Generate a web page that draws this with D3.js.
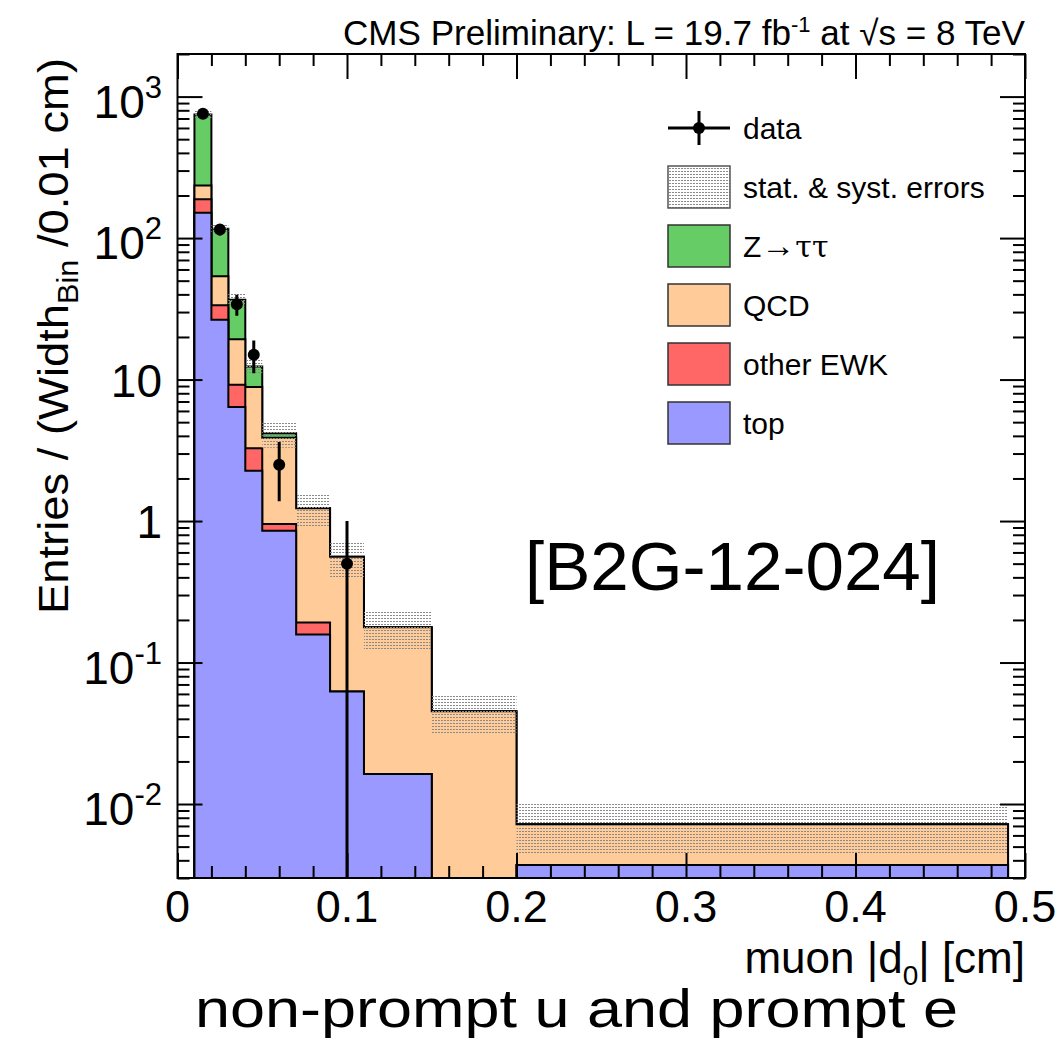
<!DOCTYPE html>
<html><head><meta charset="utf-8">
<script src="https://cdn.jsdelivr.net/npm/d3@7"></script>
<style>
body{margin:0;background:#fff}
svg{display:block}
text{font-family:"Liberation Sans",Arial,Helvetica,sans-serif;fill:#000}
</style>
</head><body>
<svg id="c" width="1061" height="1041"></svg>
<script>
// ---- data ----
const binEdges = [0.01, 0.02, 0.03, 0.04, 0.05, 0.07, 0.09, 0.11, 0.15, 0.20, 0.49];
const topVals     = [151, 26.5, 6.4, 2.27, 0.855, 0.158, 0.0625, 0.0163, 0, 0.0037];
const ewkVals     = [37, 7, 2.8, 1.0, 0.1, 0.034, 0, 0, 0, 0];
const qcdVals     = [47, 20.2, 10.1, 5.6, 2.93, 1.04, 0.4975, 0.161, 0.0452, 0.0035];
const ztautauVals = [512, 62.8, 17.4, 3.5, 0.29, 0, 0, 0, 0, 0];
const bandLow  = [700, 107, 33, 11, 3.3, 0.91, 0.40, 0.124, 0.031, 0.0044];
const bandHigh = [796, 128, 40.5, 14, 5.1, 1.55, 0.72, 0.23, 0.059, 0.010];
const dataX     = [0.015, 0.025, 0.035, 0.045, 0.06, 0.1];
const dataY     = [755, 115, 34, 15, 2.5, 0.5];
const dataErrLo = [27.5, 10.7, 5.8, 3.9, 1.12, 0.5];
const dataErrHi = [27.5, 10.7, 5.8, 3.9, 1.12, 0.5];
const xMajorTicks = [0, 0.1, 0.2, 0.3, 0.4, 0.5];
const xTickLabels = ["0", "0.1", "0.2", "0.3", "0.4", "0.5"];
const yMajorTicks = [0.01, 0.1, 1, 10, 100, 1000];
const yTickBase = ["10", "10", "1", "10", "10", "10"];
const yTickExp  = ["-2", "-1", "", "", "2", "3"];
const legendLabels = ["data", "stat. & syst. errors", "Z\u2192\u03c4\u03c4", "QCD", "other EWK", "top"];
const layerNames  = ["top", "other EWK", "QCD", "Z\u2192\u03c4\u03c4"];
const layerColors = ["#9999ff", "#ff6666", "#ffcc99", "#66cc66"];

// ---- layout ----
const L = 177.5, R = 1025, T = 54, B = 878;
const svg = d3.select("#c");
const x = d3.scaleLinear().domain([0, 0.5]).range([L, R]);
const y = d3.scaleLog().domain([0.003, 2000]).range([B, T]);

const defs = svg.append("defs");
defs.append("clipPath").attr("id", "plotclip").append("rect")
  .attr("x", L).attr("y", T).attr("width", R - L).attr("height", B - T);
const pat = defs.append("pattern").attr("id", "hatch").attr("patternUnits", "userSpaceOnUse")
  .attr("width", 3).attr("height", 3);
pat.append("rect").attr("x", 0).attr("y", 0).attr("width", 2).attr("height", 1).attr("fill", "#8a8a8a");

const plot = svg.append("g").attr("clip-path", "url(#plotclip)");

// stacked layers
const layerVals = [topVals, ewkVals, qcdVals, ztautauVals];
const cum = [];
layerVals.forEach((vals, k) => {
  cum.push(vals.map((v, i) => v + (k > 0 ? cum[k - 1][i] : 0)));
});
const yc = v => v > 0 ? Math.min(y(v), B + 5) : B + 5;
const line = d3.line();
for (let k = layerVals.length - 1; k >= 0; k--) {
  const pts = [[x(binEdges[0]), B + 5]];
  cum[k].forEach((v, i) => {
    pts.push([x(binEdges[i]), yc(v)]);
    pts.push([x(binEdges[i + 1]), yc(v)]);
  });
  pts.push([x(binEdges[binEdges.length - 1]), B + 5]);
  plot.append("path").attr("d", line(pts) + "Z")
    .attr("fill", layerColors[k]).attr("stroke", "#000").attr("stroke-width", 2)
    .attr("stroke-linejoin", "miter");
}

// error band
plot.selectAll("rect.band").data(bandLow).enter().append("rect").attr("class", "band")
  .attr("x", (d, i) => x(binEdges[i]))
  .attr("width", (d, i) => x(binEdges[i + 1]) - x(binEdges[i]))
  .attr("y", (d, i) => y(bandHigh[i]))
  .attr("height", (d, i) => y(bandLow[i]) - y(bandHigh[i]))
  .attr("fill", "url(#hatch)");

// axes / ticks (inward)
function clean(g) { g.select(".domain").remove(); g.selectAll("line").attr("stroke", "#000").attr("stroke-width", 2); g.selectAll("text").remove(); }
const xMinor = d3.range(0, 0.5001, 0.02).filter(v => Math.abs(v * 10 - Math.round(v * 10)) > 1e-6);
svg.append("g").attr("transform", `translate(0,${B})`).call(d3.axisBottom(x).tickValues(xMajorTicks).tickSize(-25).tickFormat("")).call(clean);
svg.append("g").attr("transform", `translate(0,${B})`).call(d3.axisBottom(x).tickValues(xMinor).tickSize(-12).tickFormat("")).call(clean);
svg.append("g").attr("transform", `translate(0,${T})`).call(d3.axisTop(x).tickValues(xMajorTicks).tickSize(-25).tickFormat("")).call(clean);
svg.append("g").attr("transform", `translate(0,${T})`).call(d3.axisTop(x).tickValues(xMinor).tickSize(-12).tickFormat("")).call(clean);
const yMinor = [];
[0.001, 0.01, 0.1, 1, 10, 100, 1000].forEach(d => { for (let m = 2; m <= 9; m++) { const v = d * m; if (v >= 0.003 && v <= 2000) yMinor.push(v); } });
svg.append("g").attr("transform", `translate(${L},0)`).call(d3.axisLeft(y).tickValues(yMajorTicks).tickSize(-25).tickFormat("")).call(clean);
svg.append("g").attr("transform", `translate(${L},0)`).call(d3.axisLeft(y).tickValues(yMinor).tickSize(-12).tickFormat("")).call(clean);
svg.append("g").attr("transform", `translate(${R},0)`).call(d3.axisRight(y).tickValues(yMajorTicks).tickSize(-25).tickFormat("")).call(clean);
svg.append("g").attr("transform", `translate(${R},0)`).call(d3.axisRight(y).tickValues(yMinor).tickSize(-12).tickFormat("")).call(clean);

// frame
svg.append("rect").attr("x", L).attr("y", T).attr("width", R - L).attr("height", B - T)
  .attr("fill", "none").attr("stroke", "#000").attr("stroke-width", 2);

// data points
const dg = svg.append("g").attr("clip-path", "url(#plotclip)");
dataX.forEach((xv, i) => {
  const lo = dataY[i] - dataErrLo[i];
  dg.append("line").attr("x1", x(xv)).attr("x2", x(xv))
    .attr("y1", y(dataY[i] + dataErrHi[i])).attr("y2", lo > 0 ? y(lo) : B)
    .attr("stroke", "#000").attr("stroke-width", 3);
  dg.append("circle").attr("cx", x(xv)).attr("cy", y(dataY[i])).attr("r", 6).attr("fill", "#000");
});

// tick labels
svg.selectAll("text.xl").data(xMajorTicks).enter().append("text").attr("class", "xl")
  .attr("x", d => x(d)).attr("y", 922).attr("text-anchor", "middle")
  .attr("font-size", 45).text((d, i) => xTickLabels[i]);
yMajorTicks.forEach((v, i) => {
  const t = svg.append("text").attr("x", 162).attr("y", y(v) + (yTickExp[i] ? 21 : 17))
    .attr("text-anchor", "end").attr("font-size", 46);
  t.append("tspan").text(yTickBase[i]);
  if (yTickExp[i]) t.append("tspan").attr("font-size", 31).attr("dy", -20).text(yTickExp[i]);
});

// axis titles
const yt = svg.append("text").attr("transform", "translate(68,58) rotate(-90)")
  .attr("text-anchor", "end").attr("font-size", 43)
  .attr("textLength", 556).attr("lengthAdjust", "spacingAndGlyphs");
yt.append("tspan").text("Entries / (Width");
yt.append("tspan").attr("font-size", 29).attr("dy", 10).text("Bin");
yt.append("tspan").attr("dy", -10).text(" /0.01 cm)");

const xt = svg.append("text").attr("x", 1025).attr("y", 973).attr("text-anchor", "end").attr("font-size", 44);
xt.append("tspan").text("muon |d");
xt.append("tspan").attr("font-size", 28).attr("dy", 12).text("0");
xt.append("tspan").attr("dy", -12).text("| [cm]");

svg.append("text").attr("x", 195).attr("y", 1027).attr("font-size", 54)
  .attr("textLength", 763).attr("lengthAdjust", "spacingAndGlyphs")
  .text("non-prompt u and prompt e");

// header
const hd = svg.append("text").attr("x", 343).attr("y", 45).attr("font-size", 35)
  .attr("textLength", 682).attr("lengthAdjust", "spacingAndGlyphs");
hd.append("tspan").text("CMS Preliminary: L = 19.7 fb");
hd.append("tspan").attr("font-size", 22).attr("dy", -13).text("-1");
hd.append("tspan").attr("dy", 13).text(" at \u221As = 8 TeV");

svg.append("text").attr("x", 525).attr("y", 590).attr("font-size", 68)
  .attr("textLength", 415).attr("lengthAdjust", "spacingAndGlyphs").text("[B2G-12-024]");

// legend
const legY = [128, 187, 246, 305, 364, 423];
const lx = 668, lw = 62, lh = 42;
const lg = svg.append("g");
// data entry
lg.append("line").attr("x1", lx).attr("x2", lx + lw).attr("y1", legY[0]).attr("y2", legY[0]).attr("stroke", "#000").attr("stroke-width", 3);
lg.append("line").attr("x1", lx + lw / 2).attr("x2", lx + lw / 2).attr("y1", legY[0] - 17).attr("y2", legY[0] + 17).attr("stroke", "#000").attr("stroke-width", 3);
lg.append("circle").attr("cx", lx + lw / 2).attr("cy", legY[0]).attr("r", 6).attr("fill", "#000");
// band entry
lg.append("rect").attr("x", lx).attr("y", legY[1] - lh / 2).attr("width", lw).attr("height", lh)
  .attr("fill", "url(#hatch)").attr("stroke", "#555").attr("stroke-width", 1.5);
// stack entries: Z, QCD, EWK, top
[3, 2, 1, 0].forEach((k, j) => {
  lg.append("rect").attr("x", lx).attr("y", legY[j + 2] - lh / 2).attr("width", lw).attr("height", lh)
    .attr("fill", layerColors[k]).attr("stroke", "#333").attr("stroke-width", 1.5);
});
legendLabels.forEach((s, i) => {
  const t = lg.append("text").attr("x", 743).attr("y", legY[i] + 11).attr("font-size", 30);
  if (i === 2) {
    t.append("tspan").text("Z");
    t.append("tspan").attr("font-size", 34).text("\u2192");
    t.append("tspan").attr("font-family", "'DejaVu Serif', 'Liberation Serif', serif").text("\u03c4\u03c4");
  } else {
    t.text(s);
  }
});
</script>
</body></html>
